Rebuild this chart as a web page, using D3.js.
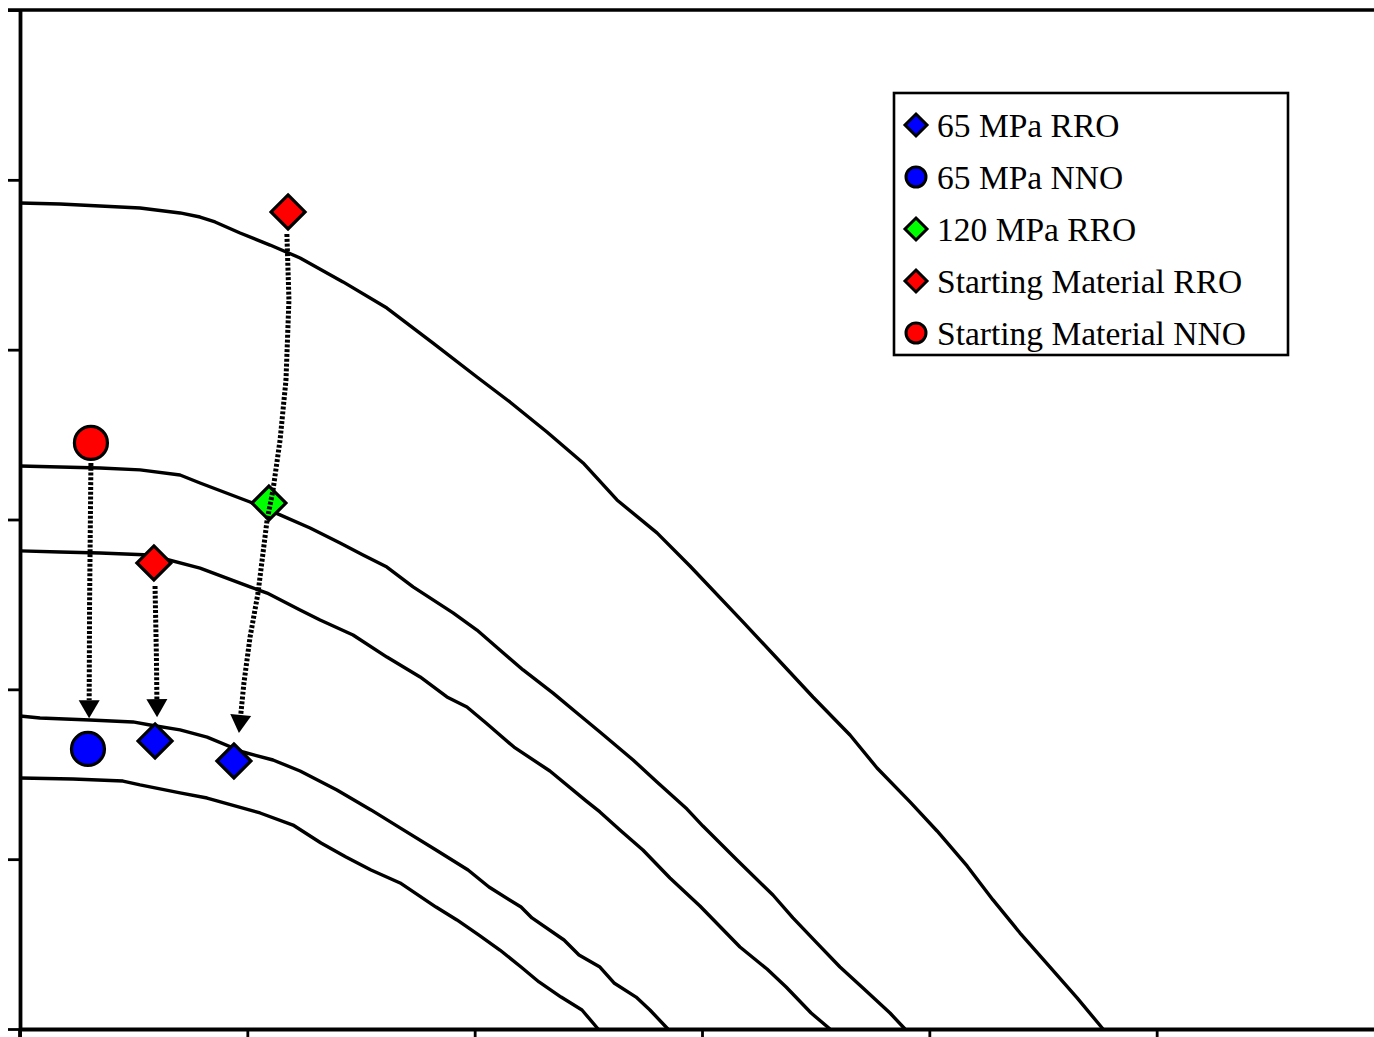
<!DOCTYPE html>
<html>
<head>
<meta charset="utf-8">
<script src="https://cdn.jsdelivr.net/npm/d3@7/dist/d3.min.js"></script>
<style>
html,body{margin:0;padding:0;background:#fff;}
svg{display:block;}
</style>
</head>
<body>
<div id="chart"></div>
<script>
// ---------- DATA ----------
const xTicks = [0, 1, 2, 3, 4, 5, 6];
const yTicks = [0, 1, 2, 3, 4, 5, 6];

// boundary curves (x, y)
const curveA = [[0,4.864],[0.176,4.858],[0.352,4.846],[0.528,4.834],[0.704,4.805],[0.792,4.781],[0.858,4.752],[0.968,4.687],[1.100,4.616],[1.232,4.540],[1.421,4.399],[1.614,4.245],[1.817,4.039],[2.010,3.839],[2.155,3.692],[2.318,3.515],[2.477,3.333],[2.626,3.115],[2.802,2.921],[2.947,2.726],[3.180,2.397],[3.312,2.208],[3.488,1.955],[3.651,1.731],[3.770,1.537],[3.915,1.337],[4.034,1.166],[4.166,0.960],[4.280,0.760],[4.399,0.565],[4.531,0.365],[4.650,0.183],[4.764,0]];
const curveB = [[0,3.315],[0.176,3.309],[0.352,3.303],[0.528,3.292],[0.704,3.262],[0.792,3.215],[1.012,3.103],[1.144,3.027],[1.276,2.950],[1.408,2.862],[1.509,2.791],[1.614,2.720],[1.729,2.603],[1.905,2.450],[2.010,2.349],[2.111,2.232],[2.213,2.114],[2.345,1.978],[2.450,1.861],[2.551,1.749],[2.697,1.584],[2.802,1.454],[2.934,1.295],[3.004,1.195],[3.154,0.995],[3.312,0.789],[3.400,0.654],[3.506,0.506],[3.607,0.365],[3.708,0.241],[3.827,0.094],[3.893,0]];
const curveC = [[0,2.815],[0.176,2.809],[0.352,2.803],[0.572,2.791],[0.792,2.714],[1.012,2.603],[1.087,2.567],[1.232,2.467],[1.320,2.408],[1.465,2.320],[1.614,2.190],[1.760,2.073],[1.878,1.955],[1.966,1.896],[2.050,1.802],[2.173,1.660],[2.331,1.519],[2.490,1.343],[2.551,1.278],[2.639,1.172],[2.740,1.054],[2.859,0.889],[2.991,0.724],[3.167,0.483],[3.286,0.353],[3.370,0.247],[3.480,0.094],[3.563,0]];
const curveD = [[0,1.843],[0.088,1.831],[0.308,1.819],[0.497,1.808],[0.572,1.790],[0.704,1.761],[0.823,1.719],[0.981,1.631],[1.113,1.584],[1.232,1.519],[1.394,1.407],[1.544,1.290],[1.672,1.184],[1.830,1.054],[1.971,0.936],[2.063,0.836],[2.204,0.718],[2.252,0.654],[2.393,0.524],[2.459,0.436],[2.551,0.365],[2.613,0.271],[2.710,0.188],[2.771,0.112],[2.850,0]];
const curveE = [[0,1.478],[0.233,1.472],[0.453,1.460],[0.528,1.437],[0.704,1.390],[0.823,1.360],[1.056,1.272],[1.201,1.201],[1.324,1.095],[1.434,1.013],[1.544,0.936],[1.672,0.860],[1.830,0.718],[1.922,0.642],[2.019,0.553],[2.111,0.465],[2.204,0.365],[2.283,0.277],[2.380,0.188],[2.472,0.112],[2.543,0]];

// sample series
const seriesNames = ["65 MPa RRO","65 MPa NNO","120 MPa RRO","Starting Material RRO","Starting Material NNO"];
const seriesShapes = ["diamond","circle","diamond","diamond","circle"];
const seriesColors = ["#0000FF","#0000FF","#00FF00","#FF0000","#FF0000"];
const mpa65RRO = [[0.594,1.696],[0.941,1.578]];
const mpa65NNO = [[0.299,1.649]];
const mpa120RRO = [[1.095,3.097]];
const startRRO = [[1.179,4.811],[0.589,2.744]];
const startNNO = [[0.312,3.451]];

// arrows (dotted paths, arrow head at last point)
const arrow1 = [[0.312,3.333],[0.306,2.500],[0.304,1.830]];
const arrow2 = [[0.594,2.608],[0.600,2.200],[0.603,1.836]];
const arrow3 = [[1.174,4.681],[1.183,4.293],[1.170,3.821],[1.144,3.468],[1.113,3.174],[1.087,2.997],[1.047,2.567],[1.012,2.308],[0.985,2.037],[0.963,1.743]];

// ---------- CHART ----------
const W = 1374, H = 1037;
const svg = d3.select("#chart").append("svg").attr("width", W).attr("height", H);

const x = d3.scaleLinear().domain([0, 6]).range([20, 1384]);
const y = d3.scaleLinear().domain([0, 6]).range([1029, 10]);

// curves
const line = d3.line().x(d => x(d[0])).y(d => y(d[1]));
[curveA, curveB, curveC, curveD, curveE].forEach(c => {
  svg.append("path").attr("d", line(c)).attr("fill", "none")
    .attr("stroke", "#000").attr("stroke-width", 3.4).attr("stroke-linejoin", "round");
});

// axes
const yAxis = d3.axisLeft(y).tickValues(yTicks).tickSize(12).tickSizeOuter(0).tickFormat("");
const gy = svg.append("g").attr("transform", `translate(${x(0)},0)`).call(yAxis);
gy.select(".domain").attr("stroke-width", 3.8);
gy.selectAll(".tick line").attr("stroke-width", 2.8);

const xAxis = d3.axisBottom(x).tickValues(xTicks).tickSize(9).tickSizeOuter(0).tickFormat("");
const gx = svg.append("g").attr("transform", `translate(0,${y(0)})`).call(xAxis);
gx.select(".domain").attr("stroke-width", 3.8);
gx.selectAll(".tick line").attr("stroke-width", 2.8);

// top border line
svg.append("line").attr("x1", x(0) - 12).attr("x2", x(6)).attr("y1", y(6)).attr("y2", y(6))
  .attr("stroke", "#000").attr("stroke-width", 3.4);
// left axis extension below bottom axis
svg.append("line").attr("x1", x(0)).attr("x2", x(0)).attr("y1", y(0)).attr("y2", H)
  .attr("stroke", "#000").attr("stroke-width", 3.8);

// markers
function marker(g, shape, cx, cy, size, color, sw) {
  if (shape === "diamond") {
    g.append("path").attr("d", `M${cx},${cy - size}L${cx + size},${cy}L${cx},${cy + size}L${cx - size},${cy}Z`)
      .attr("fill", color).attr("stroke", "#000").attr("stroke-width", sw).attr("stroke-linejoin", "miter");
  } else {
    g.append("circle").attr("cx", cx).attr("cy", cy).attr("r", size)
      .attr("fill", color).attr("stroke", "#000").attr("stroke-width", sw);
  }
}
const allSeries = [mpa65RRO, mpa65NNO, mpa120RRO, startRRO, startNNO];
const gm = svg.append("g");
allSeries.forEach((s, i) => {
  s.forEach(p => marker(gm, seriesShapes[i], x(p[0]), y(p[1]),
    seriesShapes[i] === "diamond" ? 17 : 16.5, seriesColors[i], 3.2));
});

// arrows (drawn on top of markers)
function drawArrow(pts) {
  const px = pts.map(p => [x(p[0]), y(p[1])]);
  const tip = px[px.length - 1];
  const prev = px[px.length - 2];
  const dx = tip[0] - prev[0], dy = tip[1] - prev[1];
  const len = Math.hypot(dx, dy);
  const ux = dx / len, uy = dy / len;
  const headL = 18, headW = 10.5;
  const base = [tip[0] - ux * headL, tip[1] - uy * headL];
  const linePts = px.slice(0, -1).concat([base]);
  svg.append("path").attr("d", d3.line()(linePts)).attr("fill", "none")
    .attr("stroke", "#000").attr("stroke-width", 5)
    .attr("stroke-dasharray", "3 1.8");
  const left = [base[0] - uy * headW, base[1] + ux * headW];
  const right = [base[0] + uy * headW, base[1] - ux * headW];
  svg.append("path").attr("d", `M${tip[0]},${tip[1]}L${left[0]},${left[1]}L${right[0]},${right[1]}Z`)
    .attr("fill", "#000");
}
[arrow1, arrow2, arrow3].forEach(drawArrow);

// legend
const lg = svg.append("g");
lg.append("rect").attr("x", 894).attr("y", 93).attr("width", 394).attr("height", 262)
  .attr("fill", "#fff").attr("stroke", "#000").attr("stroke-width", 2.6);
seriesNames.forEach((name, i) => {
  const cy = 125 + i * 52;
  marker(lg, seriesShapes[i], 916, cy, seriesShapes[i] === "diamond" ? 11 : 10, seriesColors[i], 3);
  lg.append("text").attr("x", 937).attr("y", cy + 12)
    .attr("font-family", "'Liberation Serif','Times New Roman',serif")
    .attr("font-size", 33.5).attr("fill", "#000")
    .text(name);
});
</script>
</body>
</html>
